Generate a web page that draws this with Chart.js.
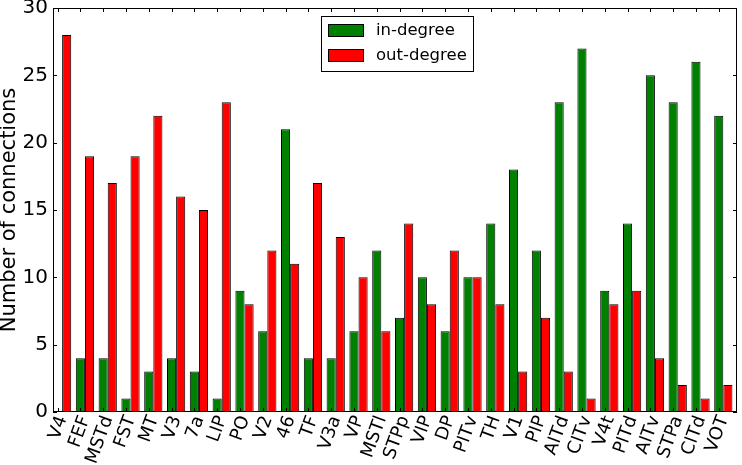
<!DOCTYPE html>
<html>
<head>
<meta charset="utf-8">
<script src="https://cdn.jsdelivr.net/npm/chart.js@4/dist/chart.umd.min.js"></script>
<style>
  html, body { margin: 0; padding: 0; background: #fff; }
  #wrap { width: 742px; height: 465px; }
</style>
</head>
<body>
<div id="wrap"><canvas id="degreeChart"></canvas></div>
<script>
const areas = ['V4', 'FEF', 'MSTd', 'FST', 'MT', 'V3', '7a', 'LIP', 'PO', 'V2', '46', 'TF', 'V3a', 'VP', 'MSTl',
    'STPp', 'VIP', 'DP', 'PITv', 'TH', 'V1', 'PIP', 'AITd', 'CITv', 'V4t', 'PITd', 'AITv', 'STPa', 'CITd', 'VOT'];
const inDegree = [0, 4, 4, 1, 3, 4, 3, 1, 9, 6, 21, 4, 4, 6, 12, 7, 10, 6, 10, 14, 18, 12, 23, 27, 9, 14, 25, 23, 26, 22];
const outDegree = [28, 19, 17, 19, 22, 16, 15, 23, 8, 12, 11, 17, 13, 10, 6, 14, 8, 12, 10, 8, 3, 7, 3, 1, 8, 9, 4, 2, 1, 2];
const yTicks = [0, 5, 10, 15, 20, 25, 30];

const FONT = 'DejaVu Sans';

// bars sit left-aligned in each unit, like matplotlib bar(i, h, 0.4)
const inPoints = inDegree.map((v, i) => ({ x: i + 0.4, y: v }));
const outPoints = outDegree.map((v, i) => ({ x: i + 0.4, y: v }));

// frame, inward ticks and the boxed legend
const framePlugin = {
    id: 'frame',
    afterDraw(chart) {
        const { ctx, chartArea: a, scales } = chart;
        ctx.save();
        ctx.strokeStyle = '#000';
        ctx.lineWidth = 1;
        ctx.strokeRect(a.left + 0.5, a.top + 0.5, a.right - a.left - 1, a.bottom - a.top - 1);
        ctx.beginPath();
        areas.forEach((c, i) => {
            const x = Math.round(scales.x.getPixelForValue(i + 0.2)) + 0.5;
            ctx.moveTo(x, a.top); ctx.lineTo(x, a.top + 4);
            ctx.moveTo(x, a.bottom); ctx.lineTo(x, a.bottom - 4);
        });
        yTicks.forEach(v => {
            const y = Math.round(scales.y.getPixelForValue(v)) + 0.5;
            ctx.moveTo(a.left, y); ctx.lineTo(a.left + 4, y);
            ctx.moveTo(a.right, y); ctx.lineTo(a.right - 4, y);
        });
        ctx.stroke();

        // legend
        const lx = 321, ly = 16, lw = 152, lh = 55;
        ctx.fillStyle = '#fff';
        ctx.fillRect(lx, ly, lw, lh);
        ctx.strokeRect(lx + 0.5, ly + 0.5, lw, lh);
        ctx.font = '16.5px "' + FONT + '"';
        ctx.textBaseline = 'middle';
        chart.data.datasets.forEach((ds, k) => {
            const y = ly + 14 + k * 25;
            ctx.fillStyle = ds.backgroundColor;
            ctx.fillRect(lx + 7, y - 6, 35, 12);
            ctx.strokeRect(lx + 7.5, y - 5.5, 35, 12);
            ctx.fillStyle = '#000';
            ctx.fillText(ds.label, lx + 55, y + 1);
        });
        ctx.restore();
    }
};

new Chart(document.getElementById('degreeChart').getContext('2d'), {
    type: 'bar',
    data: {
        datasets: [{
            label: 'in-degree',
            data: inPoints,
            backgroundColor: '#008000',
            borderColor: '#000',
            borderWidth: 1,
            borderSkipped: false
        }, {
            label: 'out-degree',
            data: outPoints,
            backgroundColor: '#ff0000',
            borderColor: '#000',
            borderWidth: 1,
            borderSkipped: false
        }]
    },
    options: {
        responsive: true,
        maintainAspectRatio: false,
        animation: false,
        categoryPercentage: 0.8,
        barPercentage: 1.0,
        layout: { padding: { top: 8, right: 5, left: 0, bottom: 0 } },
        plugins: {
            legend: { display: false },
            tooltip: { enabled: false }
        },
        scales: {
            x: {
                type: 'linear',
                min: 0,
                max: 30,
                offset: false,
                grid: { display: false, drawTicks: false },
                border: { display: false },
                afterBuildTicks: axis => {
                    axis.ticks = areas.map((c, i) => ({ value: i + 0.2 }));
                },
                afterFit: scale => {
                    scale.height = 53;
                    scale.paddingLeft = 0;
                    scale.paddingRight = 0;
                },
                ticks: {
                    autoSkip: false,
                    minRotation: 70,
                    maxRotation: 70,
                    labelOffset: 5,
                    padding: 1,
                    color: '#000',
                    font: { family: FONT, size: 18 },
                    callback: (v, idx) => areas[idx]
                }
            },
            y: {
                min: 0,
                max: 30,
                grid: { display: false, drawTicks: false },
                border: { display: false },
                afterFit: scale => {
                    scale.width = 53;
                    scale.paddingTop = 0;
                    scale.paddingBottom = 0;
                },
                afterBuildTicks: axis => {
                    axis.ticks = yTicks.map(v => ({ value: v }));
                },
                title: {
                    display: true,
                    text: 'Number of connections',
                    color: '#000',
                    padding: { top: -1, bottom: 0 },
                    font: { family: FONT, size: 21, lineHeight: 1 }
                },
                ticks: {
                    color: '#000',
                    padding: 5,
                    font: { family: FONT, size: 20 }
                }
            }
        }
    },
    plugins: [framePlugin]
});
</script>
</body>
</html>
